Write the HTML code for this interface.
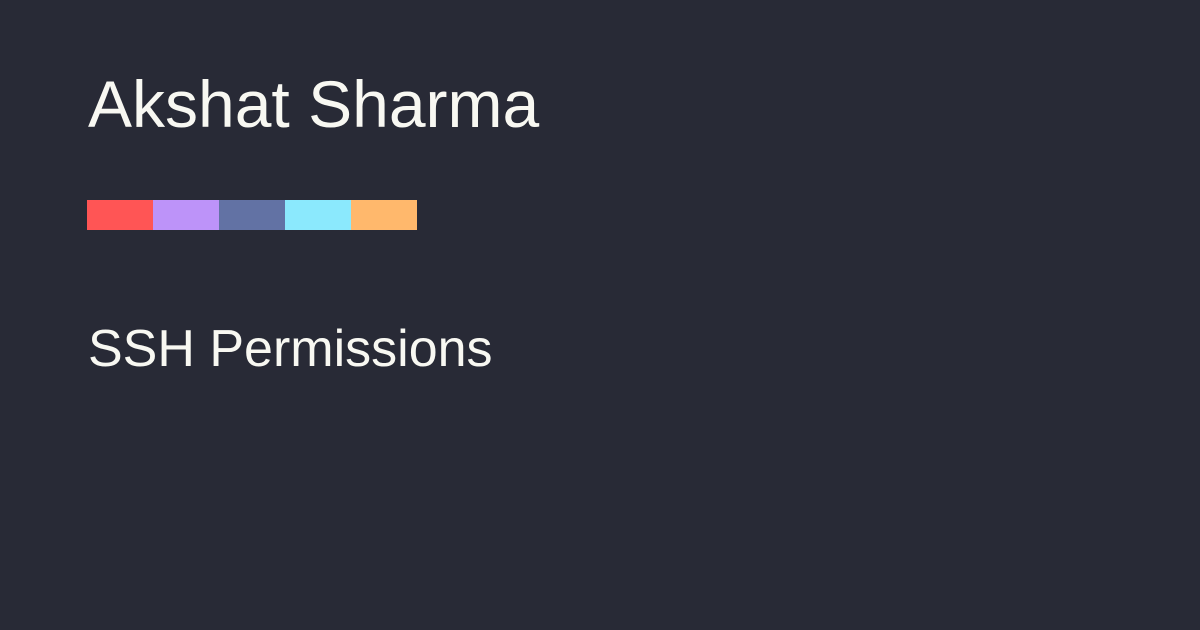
<!DOCTYPE html>
<html>
<head>
<meta charset="utf-8">
<style>
  html, body { margin: 0; padding: 0; }
  body {
    width: 1200px; height: 630px; overflow: hidden;
    background: #282a36; position: relative;
    font-family: "Liberation Sans", "DejaVu Sans", sans-serif;
    color: #f8f8f2;
  }
  .title { position: absolute; left: 88px; top: 71px; font-size: 66px; line-height: 66px; white-space: nowrap; }
  .sub { position: absolute; left: 88px; top: 323px; font-size: 52px; line-height: 52px; white-space: nowrap; }
  .stripe { position: absolute; left: 87px; top: 200px; height: 30px; display: flex; }
  .stripe div { width: 66px; height: 30px; }
</style>
</head>
<body>
  <div class="title">Akshat Sharma</div>
  <div class="stripe">
    <div style="background:#ff5555"></div>
    <div style="background:#bd93f9"></div>
    <div style="background:#6272a4"></div>
    <div style="background:#8be9fd"></div>
    <div style="background:#ffb86c"></div>
  </div>
  <div class="sub">SSH Permissions</div>
</body>
</html>
